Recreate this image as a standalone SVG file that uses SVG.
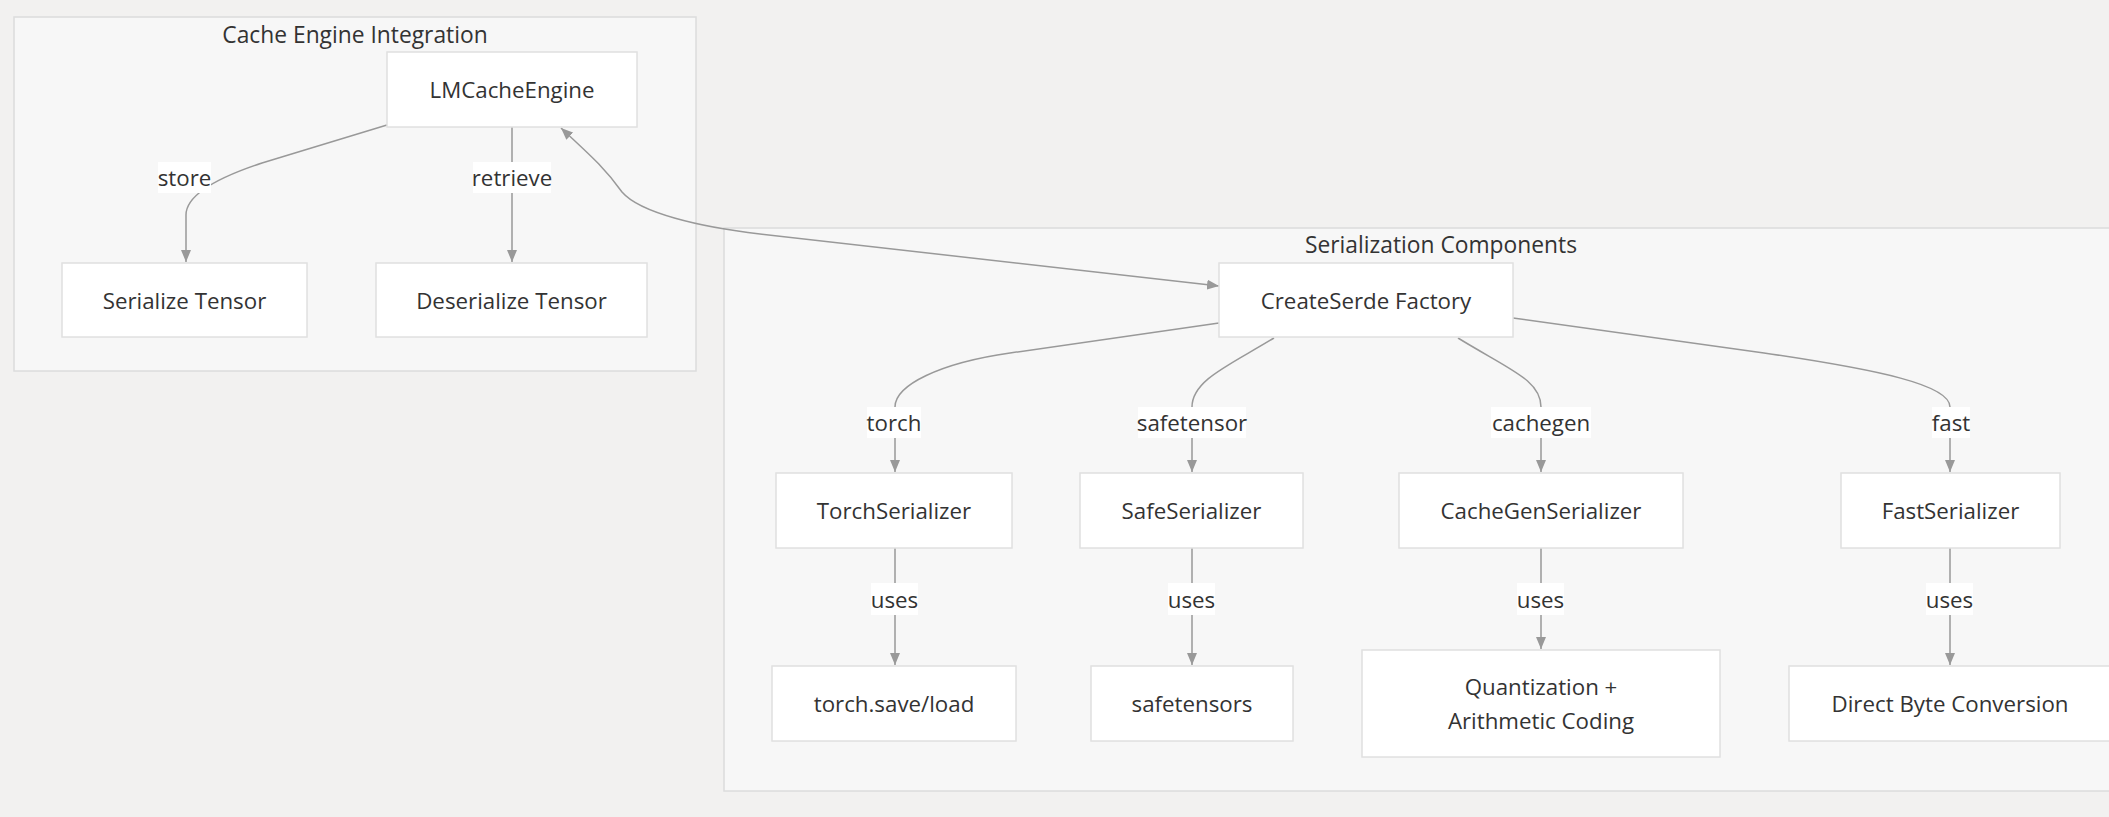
<svg xmlns="http://www.w3.org/2000/svg" width="2109" height="817" viewBox="0 0 2109 817">
<style>
.bg{fill:#f2f1f0}
.cluster{fill:#f7f7f7;stroke:#dcdcdc;stroke-width:1.5}
.node rect{fill:#ffffff;stroke:#e0e0e0;stroke-width:1.5}
text{font-family:"Open Sans","Noto Sans","DejaVu Sans",sans-serif;font-size:22.3px;fill:#333333;text-anchor:middle;dominant-baseline:central}
.ctitle{font-size:22.8px}
.edge{fill:none;stroke:#999999;stroke-width:1.5}
.lbl rect{fill:#ffffff}
</style>
<defs>
<marker id="arr" viewBox="0 0 12 10" refX="12" refY="5" markerWidth="12" markerHeight="10" markerUnits="userSpaceOnUse" orient="auto-start-reverse">
<path d="M0,0 L12,5 L0,10 z" fill="#999999"/>
</marker>
</defs>
<rect class="bg" x="0" y="0" width="2109" height="817"/>
<g id="cluster-cache-engine">
<rect class="cluster" x="14" y="17" width="682" height="354"/>
<text class="ctitle" x="355" y="34">Cache Engine Integration</text>
</g>
<g id="cluster-serialization">
<rect class="cluster" x="724" y="228" width="1400" height="563"/>
<text class="ctitle" x="1441" y="244">Serialization Components</text>
</g>
<g id="connectors">
<path class="edge" d="M387,125 L262,163 Q186,188 186,215 L186,262" marker-end="url(#arr)"/>
<path class="edge" d="M512,127 L512,262" marker-end="url(#arr)"/>
<path class="edge" d="M1219,286 L760,234 C700,227 640,213 622,192 C605,168 590,155 561,128" marker-start="url(#arr)" marker-end="url(#arr)"/>
<path class="edge" d="M1219,323 L1010,353 C940,363 895,385 895,407 L895,472" marker-end="url(#arr)"/>
<path class="edge" d="M1274,338 C1230,365 1192,380 1192,407 L1192,472" marker-end="url(#arr)"/>
<path class="edge" d="M1458,338 C1510,370 1541,380 1541,407 L1541,472" marker-end="url(#arr)"/>
<path class="edge" d="M1513,318 L1764,353 C1880,370 1950,385 1950,407 L1950,472" marker-end="url(#arr)"/>
<path class="edge" d="M895,548 L895,665" marker-end="url(#arr)"/>
<path class="edge" d="M1192,548 L1192,665" marker-end="url(#arr)"/>
<path class="edge" d="M1541,548 L1541,649" marker-end="url(#arr)"/>
<path class="edge" d="M1950,548 L1950,665" marker-end="url(#arr)"/>
</g>
<g id="edge-labels">
<g class="lbl"><rect x="158" y="162" width="53" height="31"/><text x="184.5" y="177.5">store</text></g>
<g class="lbl"><rect x="473" y="162" width="78" height="31"/><text x="512" y="177.5">retrieve</text></g>
<g class="lbl"><rect x="867" y="407" width="54" height="31"/><text x="894" y="422.5">torch</text></g>
<g class="lbl"><rect x="1138" y="407" width="108" height="31"/><text x="1192" y="422.5">safetensor</text></g>
<g class="lbl"><rect x="1491" y="407" width="100" height="31"/><text x="1541" y="422.5">cachegen</text></g>
<g class="lbl"><rect x="1932" y="407" width="38" height="31"/><text x="1951" y="422.5">fast</text></g>
<g class="lbl"><rect x="871" y="583" width="47" height="32"/><text x="894.5" y="599">uses</text></g>
<g class="lbl"><rect x="1168" y="583" width="47" height="32"/><text x="1191.5" y="599">uses</text></g>
<g class="lbl"><rect x="1517" y="583" width="47" height="32"/><text x="1540.5" y="599">uses</text></g>
<g class="lbl"><rect x="1926" y="583" width="47" height="32"/><text x="1949.5" y="599">uses</text></g>
</g>
<g id="node-lmcacheengine" class="node"><rect x="387" y="52" width="250" height="75"/><text x="512" y="89.5">LMCacheEngine</text></g>
<g id="node-serialize" class="node"><rect x="62" y="263" width="245" height="74"/><text x="184.5" y="300">Serialize Tensor</text></g>
<g id="node-deserialize" class="node"><rect x="376" y="263" width="271" height="74"/><text x="511.5" y="300">Deserialize Tensor</text></g>
<g id="node-createserde" class="node"><rect x="1219" y="263" width="294" height="74"/><text x="1366" y="300">CreateSerde Factory</text></g>
<g id="node-torchserializer" class="node"><rect x="776" y="473" width="236" height="75"/><text x="894" y="510.5">TorchSerializer</text></g>
<g id="node-safeserializer" class="node"><rect x="1080" y="473" width="223" height="75"/><text x="1191.5" y="510.5">SafeSerializer</text></g>
<g id="node-cachegenserializer" class="node"><rect x="1399" y="473" width="284" height="75"/><text x="1541" y="510.5">CacheGenSerializer</text></g>
<g id="node-fastserializer" class="node"><rect x="1841" y="473" width="219" height="75"/><text x="1950.5" y="510.5">FastSerializer</text></g>
<g id="node-torchsave" class="node"><rect x="772" y="666" width="244" height="75"/><text x="894" y="703.5">torch.save/load</text></g>
<g id="node-safetensors" class="node"><rect x="1091" y="666" width="202" height="75"/><text x="1192" y="703.5">safetensors</text></g>
<g id="node-quantization" class="node"><rect x="1362" y="650" width="358" height="107"/><text x="1541" y="686">Quantization +</text><text x="1541" y="720">Arithmetic Coding</text></g>
<g id="node-directbyte" class="node"><rect x="1789" y="666" width="330" height="75"/><text x="1950" y="703.5">Direct Byte Conversion</text></g>
</svg>
